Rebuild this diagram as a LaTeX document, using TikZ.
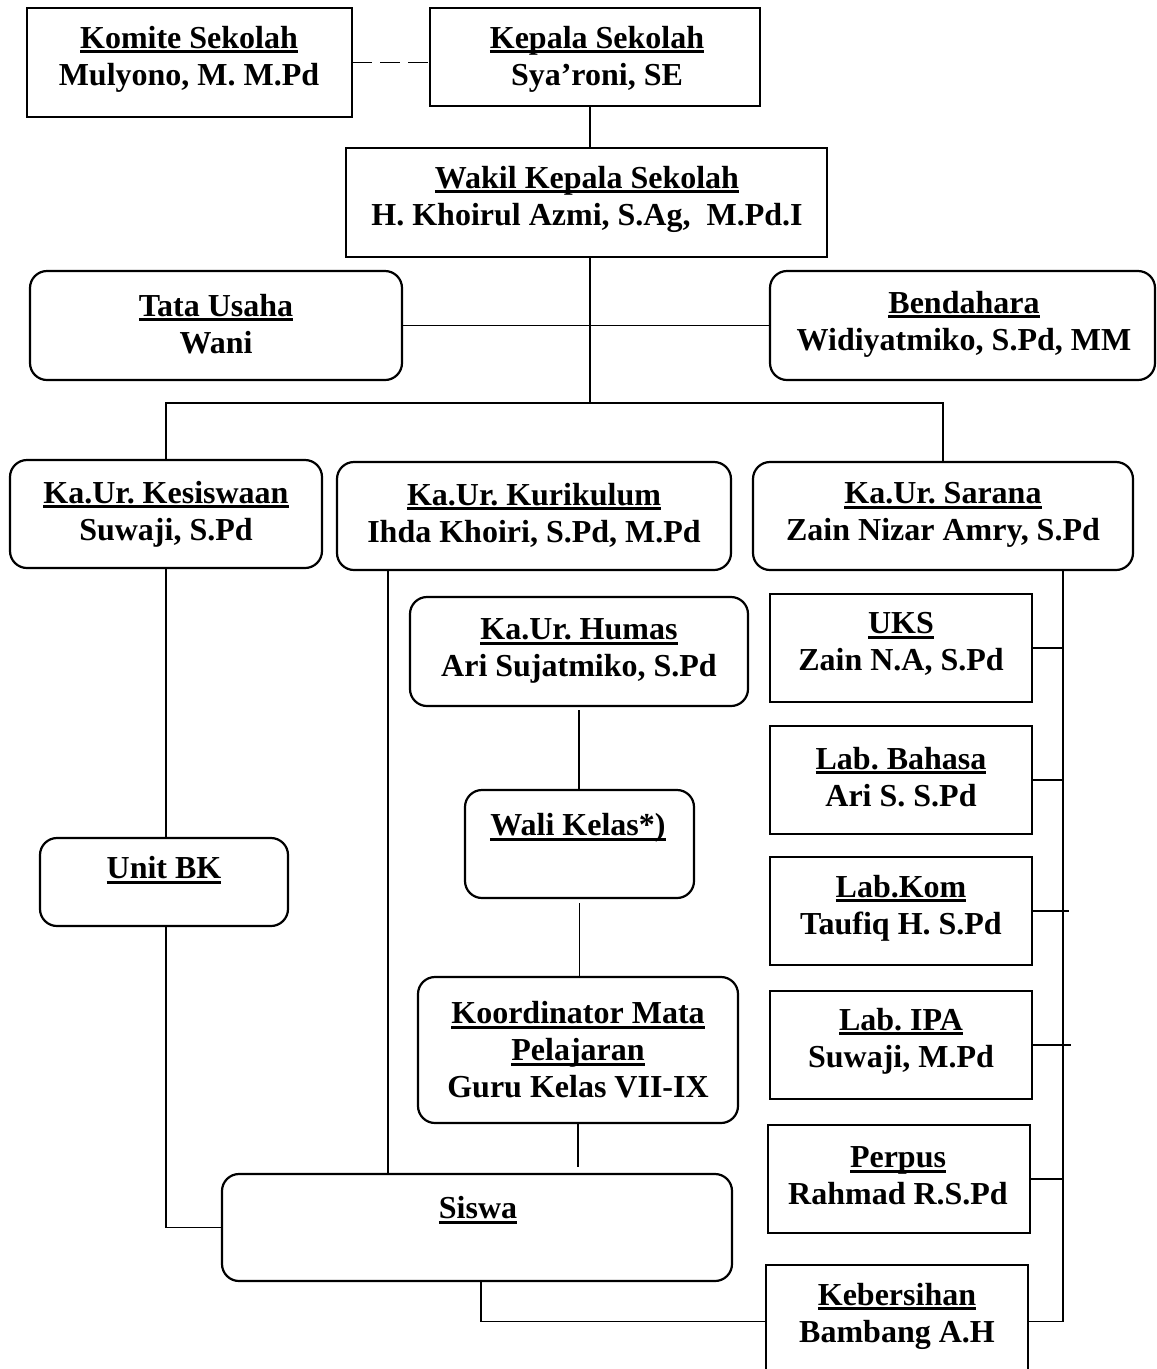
\documentclass[tikz,border=0pt]{standalone}
\usepackage{fontspec}
\setmainfont{Liberation Serif}
\frenchspacing
\newsavebox\ulbox
\newcommand\ulin[1]{\sbox\ulbox{#1}\rlap{\rule[-5pt]{\wd\ulbox}{3pt}}\usebox\ulbox}
\newcommand\mkbox[6]{\node[#2, minimum width={(#5)-(#3)}, minimum height={(#6)-(#4)}] (#1) at ({((#3)+(#5))/2},{((#4)+(#6))/2}) {};}
\tikzset{
  sq/.style={draw, rectangle, line width=2.2pt, inner sep=0pt, outer sep=0pt},
  rd/.style={sq, rounded corners=17pt},
  lbl/.style={align=center, inner sep=0pt, font=\fontsize{32}{37}\selectfont\bfseries\frenchspacing},
  conn/.style={line width=1.7pt}
}
\begin{document}
\begin{tikzpicture}[x=1pt,y=-1pt]
\useasboundingbox (0,0) rectangle (1157,1369);
\fill[white] (0,0) rectangle (1157,1369);
\clip (0,0) rectangle (1157,1369);
% boxes
\mkbox{komite}{sq}{27}{8}{352}{117}
\mkbox{kepala}{sq}{430}{8}{760}{106}
\mkbox{wakil}{sq}{346}{148}{827}{257}
\mkbox{tata}{rd}{30}{271}{402}{380}
\mkbox{bend}{rd}{770}{271}{1155}{380}
\mkbox{kes}{rd}{10}{460}{322}{568}
\mkbox{kur}{rd}{337}{462}{731}{570}
\mkbox{sar}{rd}{753}{462}{1133}{570}
\mkbox{humas}{rd}{410}{597}{748}{706}
\mkbox{wali}{rd}{465}{790}{694}{898}
\mkbox{koord}{rd}{418}{977}{738}{1123}
\mkbox{bk}{rd}{40}{838}{288}{926}
\mkbox{siswa}{rd}{222}{1174}{732}{1281}
\mkbox{uks}{sq}{770}{594}{1032}{702}
\mkbox{bahasa}{sq}{770}{726}{1032}{834}
\mkbox{labkom}{sq}{770}{857}{1032}{965}
\mkbox{ipa}{sq}{770}{991}{1032}{1099}
\mkbox{perpus}{sq}{768}{1125}{1030}{1233}
\mkbox{keb}{sq}{766}{1265}{1028}{1378}
% labels
\node[lbl] (komite-t) at (189,59) {\ulin{Komite Sekolah}\\Mulyono, M. M.Pd};
\node[lbl] (kepala-t) at (597,59) {\ulin{Kepala Sekolah}\\Sya’roni, SE};
\node[lbl] (wakil-t) at (587,199) {\ulin{Wakil Kepala Sekolah}\\H. Khoirul Azmi, S.Ag,\ \ M.Pd.I};
\node[lbl] (tata-t) at (216,324) {\ulin{Tata Usaha}\\Wani};
\node[lbl] (bend-t) at (964,324) {\ulin{Bendahara}\\Widiyatmiko, S.Pd, MM};
\node[lbl] (kes-t) at (166,514) {\ulin{Ka.Ur. Kesiswaan}\\Suwaji, S.Pd};
\node[lbl] (kur-t) at (534,515) {\ulin{Ka.Ur. Kurikulum}\\Ihda Khoiri, S.Pd, M.Pd};
\node[lbl] (sar-t) at (943,515) {\ulin{Ka.Ur. Sarana}\\Zain Nizar Amry, S.Pd};
\node[lbl] (humas-t) at (579,651) {\ulin{Ka.Ur. Humas}\\Ari Sujatmiko, S.Pd};
\node[lbl] (wali-t) at (578,828) {\ulin{Wali Kelas*)}};
\node[lbl] (koord-t) at (578,1050) {\ulin{Koordinator Mata}\\\ulin{Pelajaran}\\Guru Kelas VII-IX};
\node[lbl] (bk-t) at (164,870) {\ulin{Unit BK}};
\node[lbl] (siswa-t) at (478,1210) {\ulin{Siswa}};
\node[lbl] (uks-t) at (901,644) {\ulin{UKS}\\Zain N.A, S.Pd};
\node[lbl] (bahasa-t) at (901,777) {\ulin{Lab. Bahasa}\\Ari S. S.Pd};
\node[lbl] (labkom-t) at (901,908) {\ulin{Lab.Kom}\\Taufiq H. S.Pd};
\node[lbl] (ipa-t) at (901,1041) {\ulin{Lab. IPA}\\Suwaji, M.Pd};
\node[lbl] (perpus-t) at (898,1176) {\ulin{Perpus}\\Rahmad R.S.Pd};
\node[lbl] (keb-t) at (897,1316) {\ulin{Kebersihan}\\Bambang A.H};
% connectors
\coordinate (cx) at (590,0);
\coordinate (j) at (590,403);
\coordinate (kx) at (388,0);
\coordinate (sx) at (481,0);
\coordinate (rx) at (1063,0);
\draw[conn, dash pattern=on 20pt off 8pt] (komite.east) -- (komite.east -| kepala.west);
\draw[conn] (kepala.south -| cx) -- (wakil.north -| cx);
\draw[conn] (wakil.south -| cx) -- (j);
\draw[conn] (tata.east) -- (bend.west);
\draw[conn] (kes.north) |- (j) -| (sar.north);
\draw[conn] (kes.south) -- (kes.south |- bk.north);
\draw[conn] (bk.south -| kes.south) |- (siswa.west);
\draw[conn] (kur.south -| kx) -- (siswa.north -| kx);
\draw[conn, shorten <=4pt] (humas.south) -- (wali.north -| humas.south);
\draw[conn, shorten <=5pt] (wali.south) -- (koord.north -| wali.south);
\draw[conn, shorten >=7pt] (koord.south) -- (siswa.north -| koord.south);
\draw[conn] (siswa.south -| sx) |- (keb.west);
\draw[conn] (sar.south -| rx) -- (keb.east -| rx);
\draw[conn] (uks.east) -- (uks.east -| rx);
\draw[conn] (bahasa.east) -- (bahasa.east -| rx);
\draw[conn] (labkom.east) -- ([xshift=6pt]labkom.east -| rx);
\draw[conn] (ipa.east) -- ([xshift=8pt]ipa.east -| rx);
\draw[conn] (perpus.east) -- (perpus.east -| rx);
\draw[conn] (keb.east) -- (keb.east -| rx);
\end{tikzpicture}
\end{document}
